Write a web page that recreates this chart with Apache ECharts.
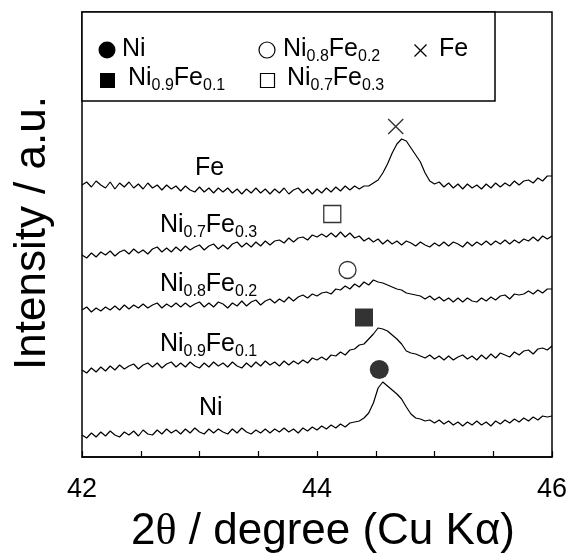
<!DOCTYPE html>
<html>
<head>
<meta charset="utf-8">
<script src="https://cdn.jsdelivr.net/npm/echarts@6/dist/echarts.min.js"></script>
<style>
html,body{margin:0;padding:0;background:#fff;}
#chart{width:572px;height:560px;}
</style>
</head>
<body>
<div id="chart"></div>
<script>
// 2theta scan grid (degrees)
const twoTheta = [
42.00,42.04,42.08,42.12,42.16,42.20,42.24,42.28,42.32,42.36,
42.40,42.44,42.48,42.52,42.56,42.60,42.64,42.68,42.72,42.76,
42.80,42.84,42.88,42.92,42.96,43.00,43.04,43.08,43.12,43.16,
43.20,43.24,43.28,43.32,43.36,43.40,43.44,43.48,43.52,43.56,
43.60,43.64,43.68,43.72,43.76,43.80,43.84,43.88,43.92,43.96,
44.00,44.04,44.08,44.12,44.16,44.20,44.24,44.28,44.32,44.36,
44.40,44.44,44.48,44.52,44.56,44.60,44.64,44.68,44.72,44.76,
44.80,44.84,44.88,44.92,44.96,45.00,45.04,45.08,45.12,45.16,
45.20,45.24,45.28,45.32,45.36,45.40,45.44,45.48,45.52,45.56,
45.60,45.64,45.68,45.72,45.76,45.80,45.84,45.88,45.92,45.96,
46.00];

// intensities (arbitrary units, curves offset vertically)
const intFe = [
272,275,270,276,272,269,275,268,274,270,
275,269,273,268,274,269,272,267,272,268,
271,266,271,267,265,270,265,269,264,269,
265,269,264,268,263,268,264,269,264,268,
263,268,264,269,263,267,269,264,268,263,
268,264,269,265,270,266,271,267,271,268,
271,271,274,277,284,293,304,313,318,316,
309,302,295,284,276,273,275,270,274,269,
273,268,273,269,272,268,273,269,274,270,
274,271,276,272,276,277,274,279,276,281,281];

const intNi07Fe03 = [
202,199,204,200,205,202,206,201,205,207,
203,208,204,207,203,208,210,205,209,205,
210,206,211,207,210,212,207,211,213,208,
212,208,213,215,210,214,210,215,211,216,
212,216,217,214,219,215,219,220,217,222,
220,223,220,224,220,225,220,224,219,221,
216,219,215,218,213,217,213,216,212,216,
214,211,215,212,210,214,211,215,211,215,
213,210,215,211,215,212,216,212,216,213,
217,213,217,214,218,216,220,216,221,218,221];

const intNi08Fe02 = [
147,150,145,149,146,150,147,151,147,152,
148,152,149,153,149,152,154,149,153,150,
154,150,154,150,153,155,150,154,150,155,
153,149,154,151,156,151,155,157,152,156,
158,154,158,155,160,156,160,162,159,163,
161,164,165,163,168,167,171,168,173,170,
175,172,177,175,174,172,170,168,167,164,
163,162,161,158,161,157,160,156,159,155,
159,155,159,156,155,159,156,160,157,161,
162,158,163,162,163,166,163,167,164,168,168];

const intNi09Fe01 = [
87,84,89,85,90,86,91,87,92,88,
91,93,88,92,94,90,94,89,93,95,
90,94,90,95,91,89,94,90,95,91,
94,90,95,91,89,94,90,95,91,96,
92,95,91,96,92,96,93,97,94,99,
97,100,97,102,101,105,102,107,108,112,
113,118,123,129,128,126,122,118,113,106,
104,103,101,99,102,98,101,97,101,97,
100,102,98,101,97,102,98,103,99,104,
102,100,105,102,106,107,103,108,109,107,111];

const intNi = [
22,19,24,20,25,21,26,22,20,25,
22,26,21,27,23,22,27,23,28,24,
27,23,28,24,29,25,23,28,24,28,
25,23,28,24,29,25,23,27,24,28,
24,28,25,29,25,28,24,29,26,30,
27,31,28,32,29,33,30,34,35,36,
39,44,54,69,75,71,67,63,58,50,
43,39,38,36,37,34,37,33,36,32,
35,31,35,32,36,32,35,31,36,33,
37,34,38,35,39,36,40,37,41,40,41];

// peak markers: Ni, Ni0.9Fe0.1, Ni0.8Fe0.2, Ni0.7Fe0.3, Fe
const markerAngles  = [44.53, 44.40, 44.26, 44.13, 44.67];
const markerHeights = [87.5, 139.5, 187, 243, 330.5];

const xTicks = [42, 44, 46];

const FONT = "'Liberation Sans', Arial, Helvetica, sans-serif";
const rich = {
  n: {fontSize: 25, lineHeight: 25, fontFamily: FONT, color: '#000', verticalAlign: 'bottom', padding: [0,0,3,0]},
  s: {fontSize: 16, lineHeight: 16, fontFamily: FONT, color: '#000', verticalAlign: 'bottom'}
};
function formula(parts){ // parts: [main, sub, main, sub...]
  return parts.map((p,i)=> (i%2===0 ? '{n|'+p+'}' : '{s|'+p+'}')).join('');
}
function label(x, y, parts){
  return {type:'text', x:x, y:y, z:100,
    style:{text: formula(parts), rich: rich, align:'left', verticalAlign:'bottom',
           textAlign:'left', textVerticalAlign:'bottom', fill:'#000'}};
}

function zip(vals){ return twoTheta.map((t,i)=>[t, vals[i]]); }

const lineStyle = {color:'#000', width:1.2};
function curve(name, vals){
  return {name:name, type:'line', data: zip(vals), showSymbol:false, symbol:'none',
          lineStyle: lineStyle, z:2, silent:true};
}
function marker(idx, symbol, size, fill){
  return {type:'scatter', data:[[markerAngles[idx], markerHeights[idx]]], symbol:symbol, symbolSize:size,
    itemStyle:{color: fill, borderColor:'#000', borderWidth: fill==='#000'?0:1.3}, z:5, silent:true};
}

const chart = echarts.init(document.getElementById('chart'), null, {renderer:'canvas'});
chart.setOption({
  animation:false,
  backgroundColor:'#fff',
  grid:{left:82, right:20, top:12, bottom:103, show:true, borderColor:'#000', borderWidth:1.5, backgroundColor:'transparent'},
  xAxis:{type:'value', min:42, max:46, interval:0.5,
    axisLine:{show:true, lineStyle:{color:'#000', width:1.5}},
    axisTick:{show:true, inside:true, length:6, lineStyle:{color:'#000', width:1.2}},
    axisLabel:{show:true, color:'#000', fontSize:27, fontFamily:FONT, margin:19,
      formatter: v => xTicks.indexOf(v) >= 0 ? String(v) : ''},
    splitLine:{show:false}},
  yAxis:{type:'value', min:0, max:445, show:false},
  series:[
    curve('Fe', intFe),
    curve('Ni0.7Fe0.3', intNi07Fe03),
    curve('Ni0.8Fe0.2', intNi08Fe02),
    curve('Ni0.9Fe0.1', intNi09Fe01),
    curve('Ni', intNi),
    marker(0, 'circle', 19, '#000'),
    marker(1, 'rect', 18, '#000'),
    marker(2, 'circle', 17, '#fff'),
    marker(3, 'rect', 17, '#fff'),
    {type:'scatter', data:[[markerAngles[4], markerHeights[4]]], symbol:'path://M0,0L15,15M15,0L0,15', symbolSize:15,
      itemStyle:{color:'none', borderColor:'#000', borderWidth:1.4}, z:5, silent:true}
  ],
  graphic:[
    // legend box
    {type:'rect', z:50, shape:{x:82, y:12, width:413, height:89}, style:{fill:'#fff', stroke:'#000', lineWidth:1.5}},
    {type:'circle', z:60, shape:{cx:107, cy:50, r:8.5}, style:{fill:'#000'}},
    label(122, 65, ['Ni']),
    {type:'circle', z:60, shape:{cx:267, cy:50, r:8}, style:{fill:'#fff', stroke:'#000', lineWidth:1.2}},
    label(283, 65, ['Ni','0.8','Fe','0.2']),
    {type:'polyline', z:60, shape:{points:[[414.5,44.5],[426.5,56.5]]}, style:{stroke:'#000', lineWidth:1.2, fill:null}},
    {type:'polyline', z:60, shape:{points:[[426.5,44.5],[414.5,56.5]]}, style:{stroke:'#000', lineWidth:1.2, fill:null}},
    label(439, 65, ['Fe']),
    {type:'rect', z:60, shape:{x:100, y:73, width:15, height:15}, style:{fill:'#000'}},
    label(128, 94, ['Ni','0.9','Fe','0.1']),
    {type:'rect', z:60, shape:{x:260.5, y:73.5, width:14, height:14}, style:{fill:'#fff', stroke:'#000', lineWidth:1.2}},
    label(287, 94, ['Ni','0.7','Fe','0.3']),
    // curve labels
    label(195, 184, ['Fe']),
    label(160, 241, ['Ni','0.7','Fe','0.3']),
    label(160, 300, ['Ni','0.8','Fe','0.2']),
    label(160, 360, ['Ni','0.9','Fe','0.1']),
    label(199, 424, ['Ni']),
    // axis titles
    {type:'text', x:33, y:233, rotation:Math.PI/2, z:100,
      style:{text:'Intensity / a.u.', font:'44px '+FONT, fill:'#000', align:'center', verticalAlign:'middle', textAlign:'center', textVerticalAlign:'middle'}},
    {type:'text', x:323, y:532, z:100,
      style:{text:'{a|2}{t|θ}{a| / degree (Cu Kα)}', align:'center', verticalAlign:'middle', textAlign:'center', textVerticalAlign:'middle',
        rich:{a:{fontSize:44, fontFamily:FONT, color:'#000'}, t:{fontSize:44, fontFamily:"'Liberation Serif', 'Times New Roman', serif", color:'#000'}}}}
  ]
});
</script>
</body>
</html>
